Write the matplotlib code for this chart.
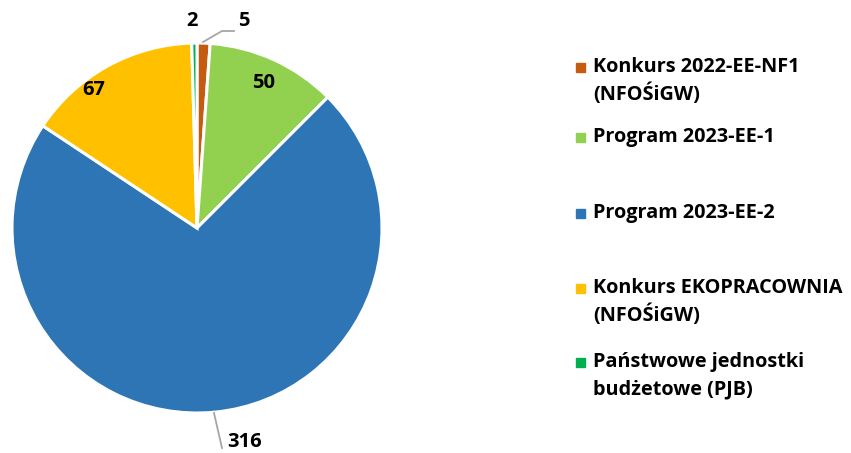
import matplotlib
matplotlib.use("Agg")
import matplotlib.pyplot as plt
import numpy as np

categories = ["Konkurs 2022-EE-NF1\n(NFOŚiGW)", "Program 2023-EE-1", "Program 2023-EE-2",
              "Konkurs EKOPRACOWNIA\n(NFOŚiGW)", "Państwowe jednostki\nbudżetowe (PJB)"]
values = [5, 50, 316, 67, 2]
colors = ["#C55A11", "#92D050", "#2E75B6", "#FFC000", "#00B050"]

plt.rcParams['font.family'] = ['Open Sans', 'DejaVu Sans']

W, H = 851, 453
fig = plt.figure(figsize=(W/100, H/100), dpi=100)
cx, cy, r = 197, 228, 185
ax = fig.add_axes([(cx - r)/W, (H - cy - r)/H, 2*r/W, 2*r/H])
wedges, _ = ax.pie(values, colors=colors, startangle=90, counterclock=False,
                   radius=1, wedgeprops=dict(edgecolor="white", linewidth=2.2))
ax.set_xlim(-1, 1)
ax.set_ylim(-1, 1)
ax.set_aspect('equal')
ax.axis('off')

def px(x, y):
    return ((x - cx)/r, (cy - y)/r)

# data labels
label_pos = [(244, 21), (264, 83), (245, 442), (94, 90), (192, 21)]
for v, (x, y) in zip(values, label_pos):
    ax.text(*px(x, y), str(v), ha='center', va='center', fontsize=14.5,
            fontweight='bold', color='black', clip_on=False)

# leader lines
lx, ly = zip(px(203, 42), px(222, 31), px(234, 31))
ax.plot(lx, ly, color='#A6A6A6', lw=1.3, clip_on=False)
lx, ly = zip(px(214, 413), px(222, 448))
ax.plot(lx, ly, color='#A6A6A6', lw=1.3, clip_on=False)

# legend
leg_y = [67, 137, 213, 288, 362]
line_gap = 27.5
for c, t, y in zip(colors, categories, leg_y):
    fig.patches.append(plt.Rectangle((576/W, (H - y - 4.5)/H), 9/W, 9/H,
                                     transform=fig.transFigure, color=c, figure=fig))
    for i, line in enumerate(t.split("\n")):
        fig.text(593/W, (H - y - i*line_gap)/H, line, ha='left', va='center',
                 fontsize=14.3, fontweight='bold')

fig.savefig("out.png", dpi=100)
